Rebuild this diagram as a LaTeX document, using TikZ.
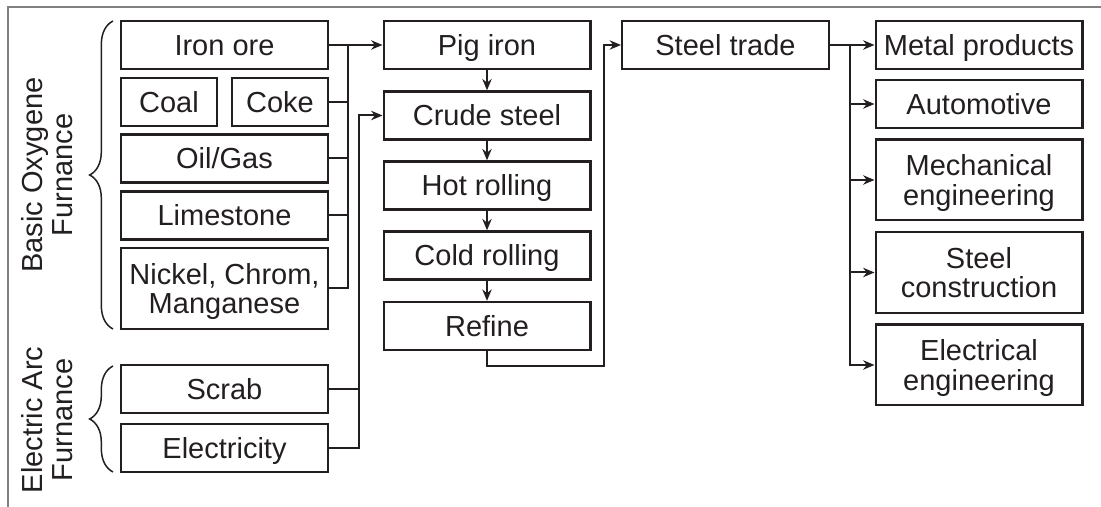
\documentclass[tikz,border=0pt]{standalone}
\usepackage{fontspec}
\setmainfont{Liberation Sans}
\usetikzlibrary{arrows.meta,decorations.pathreplacing}
\definecolor{ink}{HTML}{231F20}

\begin{document}
\begin{tikzpicture}[x = 0.3pt, y = -0.3pt, >={Stealth[length=3.4pt,width=2.8pt]},
  font = \fontsize{8.7}{9}\selectfont, text = ink,
  box/.style = {draw = ink, line width = 0.7pt, minimum width = 62pt, minimum height = 14.4pt, inner sep = 0pt, align = center, text height = 6.2pt, text depth = 0pt},
  tall/.style = {draw = ink, line width = 0.7pt, minimum width = 62pt, minimum height = 24.2pt, inner sep = 0pt, align = center, text depth = 0pt},
  half/.style = {box, minimum width = 28.8pt},
  link/.style = {draw = ink, line width = 0.6pt},
  curly/.style = {draw = ink, line width = 0.45pt, decorate, decoration = {brace, amplitude = 7pt}}]
\useasboundingbox (0,0) rectangle (1101,507);
\draw[gray, line width = 0.45pt] (8,507) -- (8,7) -- (1101,7);

% inputs
\node[box] (iron) at (224.5,45) {Iron ore};
\node[half] (coal) at (169,102) {Coal};
\node[half] (coke) at (280,102) {Coke};
\node[box] (oil) at (224.5,158.5) {Oil/Gas};
\node[box] (lime) at (224.5,215.5) {Limestone};
\node[tall] (nickel) at (224.5,288.5) {Nickel, Chrom,\\Manganese};
\node[box] (scrab) at (224.5,389) {Scrab};
\node[box] (elec) at (224.5,448) {Electricity};

\draw[curly] (113,329) -- (113,21);
\draw[curly] (113,472) -- (113,366);
\node[rotate = 90, align = center] (bof) at (47,175) {Basic Oxygene\\Furnance};
\node[rotate = 90, align = center] (eaf) at (47,420) {Electric Arc\\Furnance};

% process
\node[box] (pig) at (487,45) {Pig iron};
\node[box] (crude) at (487,115.5) {Crude steel};
\node[box] (hot) at (487,185.5) {Hot rolling};
\node[box] (cold) at (487,255.5) {Cold rolling};
\node[box] (refine) at (487,326) {Refine};
\node[box] (trade) at (725.5,45) {Steel trade};

% uses
\node[box] (metal) at (979,45) {Metal products};
\node[box] (auto) at (979,104) {Automotive};
\node[tall] (mech) at (979,180) {Mechanical\\engineering};
\node[tall] (constr) at (979,272.5) {Steel\\construction};
\node[tall] (electr) at (979,365) {Electrical\\engineering};

\coordinate (bus1) at (348,45);
\coordinate (bus2) at (359,115.5);
\coordinate (bus3) at (604,366);
\coordinate (bus4) at (850,45);

\draw[link, ->] (iron) -- (pig);
\draw[link] (nickel.east) -| (bus1);
\foreach \n in {coke, oil, lime}
  \draw[link] (\n.east) -- (\n.east -| bus1);
\draw[link, ->] (elec.east) -| (bus2) -- (crude.west);
\draw[link] (scrab.east) -- (scrab.east -| bus2);

\draw[link, ->] (pig) -- (crude);
\draw[link, ->] (crude) -- (hot);
\draw[link, ->] (hot) -- (cold);
\draw[link, ->] (cold) -- (refine);
\draw[link, ->] (refine.south) |- (bus3) |- (trade.west);

\draw[link, ->] (trade) -- (metal);
\foreach \n in {auto, mech, constr, electr}
  \draw[link, ->] (bus4) |- (\n.west);
\end{tikzpicture}
\end{document}
